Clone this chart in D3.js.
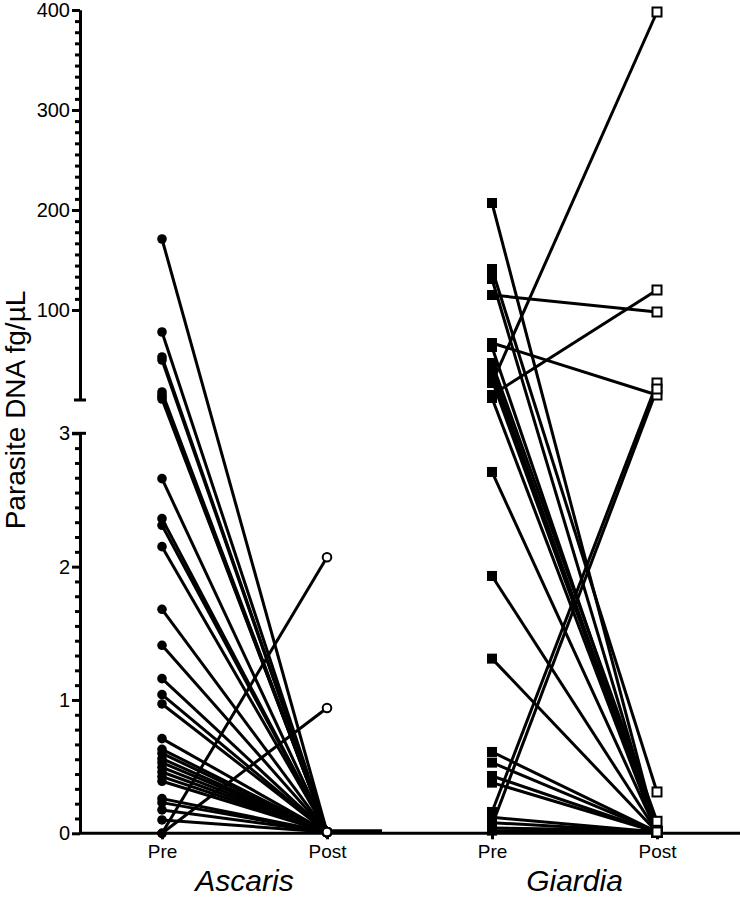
<!DOCTYPE html>
<html>
<head>
<meta charset="utf-8">
<script src="https://cdn.jsdelivr.net/npm/d3@7/dist/d3.min.js"></script>
<style>
html,body{margin:0;padding:0;background:#fff;}
svg{display:block;}
text{font-family:"Liberation Sans",Arial,sans-serif;}
</style>
</head>
<body>
<script>
// ---- data ----
const groups = ["Ascaris", "Giardia"];
const timepoints = ["Pre", "Post"];
const ascarisPre  = [171, 78, 53, 50, 18, 15, 13, 11, 2.66, 2.36, 2.31, 2.15, 1.68, 1.41, 1.16, 1.04, 0.97, 0.71, 0.63, 0.6, 0.56, 0.53, 0.495, 0.46, 0.425, 0.39, 0.26, 0.23, 0.175, 0.1, 0, 0];
const ascarisPost = [0.01, 0.01, 0.01, 0.01, 0.01, 0.01, 0.01, 0.01, 0.01, 0.01, 0.01, 0.01, 0.01, 0.01, 0.01, 0.01, 0.01, 0.01, 0.01, 0.01, 0.01, 0.01, 0.01, 0.01, 0.01, 0.01, 0.01, 0.01, 0.01, 0.01, 2.07, 0.94];
const giardiaPre  = [207, 141, 131, 115, 67, 63, 47, 40, 36, 33, 30, 27, 15, 12, 2.71, 1.93, 1.31, 0.61, 0.53, 0.43, 0.38, 0.16, 0.06, 0.12, 0.08, 0.04, 0.02];
const giardiaPost = [0.01, 0.31, 0.01, 98, 15, 0.01, 0.09, 0.01, 0.01, 0.01, 0.01, 398, 120, 0.01, 0.01, 0.01, 0.01, 0.01, 0.01, 0.01, 0.01, 27, 21, 0.01, 0.01, 0.02, 0.01];
const lowerTicks = [0, 1, 2, 3];
const upperTicks = [100, 200, 300, 400];
const yLabel = "Parasite DNA fg/µL";

// ---- layout ----
const W = 740, H = 901;
const axisX = 80;
const svg = d3.select("body").append("svg").attr("width", W).attr("height", H);

const yLower = d3.scaleLinear().domain([0, 3]).range([833.3, 433.3]);
const yUpper = d3.scaleLinear().domain([10, 400]).range([400, 10]);
function y(v) {
  if (v <= 3) return yLower(v);
  if (v >= 10) return yUpper(v);
  return yLower(3) + (v - 3) / 7 * (yUpper(10) - yLower(3));
}
const cats = [];
groups.forEach(g => timepoints.forEach(t => cats.push(g + "|" + t)));
const x = d3.scalePoint().domain(cats).range([162, 657]).padding(0);

const series = [
  {group: "Ascaris", pre: ascarisPre, post: ascarisPost, shape: "circle"},
  {group: "Giardia", pre: giardiaPre, post: giardiaPost, shape: "square"}
];

// ---- axes ----
function styleAxis(g) {
  g.select(".domain").attr("stroke", "#000").attr("stroke-width", 3);
  g.selectAll(".tick line").attr("stroke", "#000").attr("stroke-width", 3);
  g.selectAll(".tick text").attr("fill", "#000").style("font-size", "20px")
    .style("font-family", "'Liberation Sans', Arial, sans-serif");
}

// lower y axis
const lowerMinor = [];
for (let i = 0; i < 3; i++) for (let k = 1; k < 9; k++) lowerMinor.push(i + k / 9);
svg.append("g").attr("transform", `translate(${axisX},0)`)
  .call(d3.axisLeft(yLower).tickValues(lowerMinor).tickSize(5).tickFormat("").tickSizeOuter(0))
  .call(styleAxis);
svg.append("g").attr("transform", `translate(${axisX},0)`)
  .call(d3.axisLeft(yLower).tickValues(lowerTicks).tickSize(8).tickPadding(2).tickFormat(d3.format("d")).tickSizeOuter(0))
  .call(styleAxis);

// upper y axis
const upperMinor = [];
for (let i = 1; i < 4; i++) for (let k = 1; k < 9; k++) upperMinor.push(i * 100 + k * 100 / 9);
svg.append("g").attr("transform", `translate(${axisX},0)`)
  .call(d3.axisLeft(yUpper).tickValues(upperMinor).tickSize(5).tickFormat("").tickSizeOuter(0))
  .call(styleAxis);
svg.append("g").attr("transform", `translate(${axisX},0)`)
  .call(d3.axisLeft(yUpper).tickValues(upperTicks).tickSize(8).tickPadding(2).tickFormat(d3.format("d")).tickSizeOuter(0))
  .call(styleAxis);
// end cap at bottom of upper segment
svg.append("line").attr("x1", axisX - 6).attr("x2", axisX + 6)
  .attr("y1", yUpper(10)).attr("y2", yUpper(10)).attr("stroke", "#000").attr("stroke-width", 3);
// cap at top of lower segment
svg.append("line").attr("x1", axisX - 8).attr("x2", axisX + 6)
  .attr("y1", yLower(3)).attr("y2", yLower(3)).attr("stroke", "#000").attr("stroke-width", 3);

// x axis
const xg = svg.append("g").attr("transform", `translate(0,${yLower(0)})`)
  .call(d3.axisBottom(x).tickSize(6).tickPadding(5).tickSizeOuter(0).tickFormat(d => d.split("|")[1]));
xg.select(".domain").attr("d", `M${axisX},0H${W}`);
styleAxis(xg);
xg.selectAll(".tick text").style("font-size", "19px");

// group labels
groups.forEach(g => {
  svg.append("text")
    .attr("x", (x(g + "|Pre") + x(g + "|Post")) / 2)
    .attr("y", 891)
    .attr("text-anchor", "middle")
    .style("font-size", "30px").style("font-style", "italic")
    .text(g);
});

// y label
svg.append("text")
  .attr("transform", `translate(25,${410}) rotate(-90)`)
  .attr("text-anchor", "middle")
  .style("font-size", "28px")
  .text(yLabel);

// ---- lines ----
const lineG = svg.append("g");
series.forEach(s => {
  const xp = x(s.group + "|Pre"), xq = x(s.group + "|Post");
  s.pre.forEach((v, i) => {
    lineG.append("line")
      .attr("x1", xp).attr("y1", y(v))
      .attr("x2", xq).attr("y2", y(s.post[i]))
      .attr("stroke", "#000").attr("stroke-width", 3);
  });
});
// short segment next to Ascaris post (overlapping values at zero)
svg.append("line")
  .attr("x1", x("Ascaris|Post")).attr("x2", x("Ascaris|Post") + (x("Giardia|Pre") - x("Ascaris|Post")) / 3)
  .attr("y1", y(0.02)).attr("y2", y(0.02))
  .attr("stroke", "#000").attr("stroke-width", 3);

// ---- markers ----
const mg = svg.append("g");
series.forEach(s => {
  const xp = x(s.group + "|Pre"), xq = x(s.group + "|Post");
  if (s.shape === "circle") {
    mg.selectAll(null).data(s.pre).join("circle")
      .attr("cx", xp).attr("cy", d => y(d)).attr("r", 4.8).attr("fill", "#000");
    mg.selectAll(null).data(s.post).join("circle")
      .attr("cx", xq).attr("cy", d => y(d)).attr("r", 4.3)
      .attr("fill", "#fff").attr("stroke", "#000").attr("stroke-width", 2);
  } else {
    mg.selectAll(null).data(s.pre).join("rect")
      .attr("x", xp - 5).attr("y", d => y(d) - 5).attr("width", 10).attr("height", 10).attr("fill", "#000");
    mg.selectAll(null).data(s.post).join("rect")
      .attr("x", xq - 4.5).attr("y", d => y(d) - 4.5).attr("width", 9).attr("height", 9)
      .attr("fill", "#fff").attr("stroke", "#000").attr("stroke-width", 2);
  }
});
</script>
</body>
</html>
